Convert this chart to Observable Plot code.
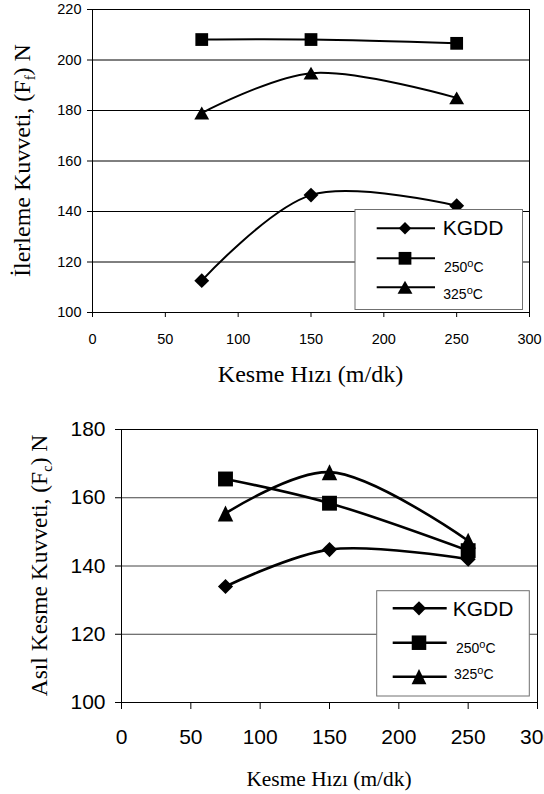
<!DOCTYPE html>
<html><head><meta charset="utf-8">
<script src="https://cdn.jsdelivr.net/npm/d3@7"></script>
<script src="https://cdn.jsdelivr.net/npm/@observablehq/plot@0.6"></script>
<style>
html,body{margin:0;padding:0;background:#fff;overflow:hidden;width:544px;height:794px}
#chart svg{display:block}
</style></head><body><div id="chart"></div>
<script>
// ---------- data ----------
const speeds = [75, 150, 250];
const seriesNames = ["KGDD", "250°C", "325°C"];
// İlerleme kuvveti (Ff), N
const feedKGDD = [112.6, 146.5, 142.3];
const feed250 = [208.1, 208.1, 206.6];
const feed325 = [179, 194.8, 185];
// Asıl kesme kuvveti (Fc), N
const cutKGDD = [134, 144.8, 142];
const cut250 = [165.5, 158.4, 144.5];
const cut325 = [155.4, 167.5, 147.4];
// ticks
const xTicks = [0, 50, 100, 150, 200, 250, 300];
const feedYTicks = [100, 120, 140, 160, 180, 200, 220];
const cutYTicks = [100, 120, 140, 160, 180];
const feedGrid = [120, 140, 160, 180, 200];
const cutGrid = [120, 140, 160];
// labels
const xLabelText = "Kesme Hızı (m/dk)";
const feedYLabel = ["İlerleme Kuvveti, (F", "f", ") N"];
const cutYLabel = ["Asıl Kesme Kuvveti, (F", "c", ") N"];

// bbox-centred triangle (as in the spreadsheet marker)
function triangle(wr, hr) {
  return {draw(ctx, size) {
    const s = Math.sqrt(size), w = s * wr / 2, h = s * hr / 2;
    ctx.moveTo(0, -h); ctx.lineTo(w, h); ctx.lineTo(-w, h); ctx.closePath();
  }};
}

function rows(values) { return speeds.map((x, j) => ({x, y: values[j]})); }

function labelMark(o) {
  return (index, scales, values, dims) => {
    const g = d3.create("svg:g")
      .attr("font-family", "'Liberation Serif','Times New Roman',serif")
      .attr("fill", "#000");
    g.append("text")
      .attr("x", (dims.marginLeft + dims.width - dims.marginRight) / 2)
      .attr("y", o.xLabelY).attr("text-anchor", "middle")
      .attr("font-size", o.xLabelSize).text(xLabelText);
    const cy = (dims.marginTop + dims.height - dims.marginBottom) / 2;
    const t = g.append("text")
      .attr("transform", `translate(${o.yLabelX},${cy}) rotate(-90)`)
      .attr("text-anchor", "middle").attr("font-size", o.yLabelSize);
    t.append("tspan").text(o.yLabel[0]);
    t.append("tspan").attr("font-size", o.yLabelSize * 0.62).attr("dy", o.yLabelSize * 0.22).text(o.yLabel[1]);
    t.append("tspan").attr("dy", -o.yLabelSize * 0.22).text(o.yLabel[2]);
    return g.node();
  };
}

function legendMark(L) {
  return () => {
    const g = d3.create("svg:g").attr("text-anchor", "start");
    g.append("rect").attr("x", L.x).attr("y", L.y).attr("width", L.w).attr("height", L.h)
      .attr("fill", "#fff").attr("stroke", "#707070").attr("stroke-width", 1);
    seriesNames.forEach((name, i) => {
      const ly = L.rowY[i];
      g.append("line").attr("x1", L.lx1).attr("x2", L.lx2).attr("y1", ly).attr("y2", ly)
        .attr("stroke", "#000").attr("stroke-width", L.sw);
      g.append("path").attr("transform", `translate(${L.mx},${ly})`)
        .attr("d", d3.symbol(L.syms[i].type, Math.PI * L.syms[i].r ** 2)())
        .attr("fill", "#000");
      const t = g.append("text").attr("x", L.textX[i]).attr("y", L.textY[i])
        .attr("text-anchor", "start")
        .attr("font-family", "'Liberation Sans',Arial,sans-serif").attr("fill", "#000");
      if (name.endsWith("°C")) {
        t.attr("font-size", 14);
        t.append("tspan").text(name.slice(0, -2));
        t.append("tspan").attr("font-size", 11).attr("dy", -5).text("o");
        t.append("tspan").attr("dy", 5).text("C");
      } else {
        t.attr("font-size", 21).text(name);
      }
    });
    return g.node();
  };
}

function chart(c) {
  const marks = [
    Plot.gridY(c.grid, {stroke: c.gridColor, strokeOpacity: 1, strokeWidth: 1}),
    Plot.frame({stroke: "#000", strokeWidth: 1}),
    Plot.axisX(xTicks, {tickSize: c.xTickSize, tickPadding: c.xTickPadding, label: null, fontSize: c.tickFont}),
    Plot.axisY(c.yTicks, {tickSize: c.yTickSize, tickPadding: c.yTickPadding, label: null, fontSize: c.tickFont})
  ];
  c.series.forEach((vals, i) => {
    marks.push(Plot.line(rows(vals), {x: "x", y: "y", curve: "catmull-rom", stroke: "#000", strokeWidth: c.sw}));
  });
  c.series.forEach((vals, i) => {
    marks.push(Plot.dot(rows(vals), {x: "x", y: "y", symbol: c.syms[i].type, r: c.syms[i].r, fill: "#000", stroke: "none"}));
  });
  marks.push(legendMark(c.legend));
  marks.push(labelMark(c.labels));
  return Plot.plot({
    width: 544, height: c.height,
    marginTop: c.mt, marginRight: c.mr, marginBottom: c.mb, marginLeft: c.ml,
    x: {domain: [0, 300]},
    y: {domain: c.yDomain},
    style: {fontFamily: "'Liberation Sans',Arial,sans-serif", fontSize: c.tickFont + "px", color: "#000", background: "#fff", overflow: "visible"},
    marks
  });
}

const topSyms = [
  {type: d3.symbolDiamond2, r: 6.7},
  {type: d3.symbolSquare, r: 7.2},
  {type: triangle(1.15, 1.0), r: 7.3}
];
const botSyms = [
  {type: d3.symbolDiamond2, r: 6.8},
  {type: d3.symbolSquare, r: 8.4},
  {type: triangle(0.97, 1.0), r: 9.0}
];

const feedChart = chart({
  height: 390, mt: 9, mr: 15, mb: 78, ml: 92,
  yDomain: [100, 220], yTicks: feedYTicks, grid: feedGrid, gridColor: "#000",
  tickFont: 14.5, xTickSize: 5, xTickPadding: 16, yTickSize: 5, yTickPadding: 6,
  sw: 2, syms: topSyms, series: [feedKGDD, feed250, feed325],
  legend: {x: 355, y: 209.5, w: 167.5, h: 100, lx1: 376.7, lx2: 435, mx: 405, sw: 2,
    rowY: [228.3, 258.3, 287.3], textX: [442.7, 444, 443.3], textY: [234.5, 272, 298.5],
    syms: [{type: d3.symbolDiamond2, r: 5.6}, {type: d3.symbolSquare, r: 7.2}, {type: triangle(1.15, 1.0), r: 7.3}]},
  labels: {xLabelY: 382, xLabelSize: 24, yLabelX: 30, yLabelSize: 24, yLabel: feedYLabel}
});

const cutChart = chart({
  height: 404, mt: 39, mr: 7, mb: 92, ml: 121,
  yDomain: [100, 180], yTicks: cutYTicks, grid: cutGrid, gridColor: "#444",
  tickFont: 21, xTickSize: 7, xTickPadding: 20, yTickSize: 6, yTickPadding: 10,
  sw: 2.6, syms: botSyms, series: [cutKGDD, cut250, cut325],
  legend: {x: 376.7, y: 200.7, w: 152.6, h: 105.3, lx1: 392.7, lx2: 446.7, mx: 419, sw: 2.6,
    rowY: [218.3, 252.7, 286.7], textX: [452.7, 456, 454], textY: [226, 263.3, 289.3],
    syms: [{type: d3.symbolDiamond2, r: 6.4}, {type: d3.symbolSquare, r: 8.2}, {type: triangle(0.97, 1.0), r: 8.6}]},
  labels: {xLabelY: 395.7, xLabelSize: 21.4, yLabelX: 46.5, yLabelSize: 23.5, yLabel: cutYLabel}
});

document.getElementById("chart").append(feedChart, cutChart);
</script></body></html>
